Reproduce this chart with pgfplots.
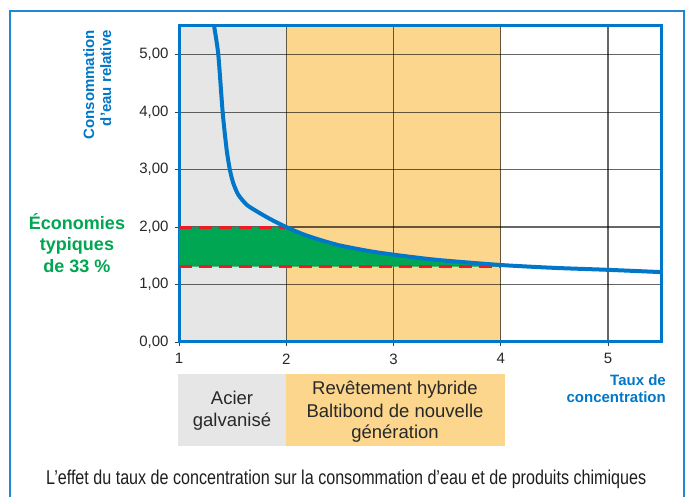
\documentclass[border=0pt]{standalone}
\usepackage{pgfplots}
\pgfplotsset{compat=1.18}
\usepackage{fontspec}
\setmainfont{Liberation Sans}
\definecolor{cblue}{RGB}{0,119,200}
\definecolor{fblue}{RGB}{30,136,210}
\definecolor{gfill}{RGB}{230,230,230}
\definecolor{ofill}{RGB}{252,214,140}
\definecolor{sgreen}{RGB}{0,166,81}
\definecolor{dred}{RGB}{237,28,36}
\definecolor{dtext}{RGB}{40,40,40}
\pgfplotsset{myframe/.style={at={(179pt,155pt)}, anchor=south west, scale only axis,
  width=482.7pt, height=316pt, xmin=1, xmax=5.5, ymin=0, ymax=5.5}}
\begin{document}
\begin{tikzpicture}
\begin{scope}[x=1pt,y=1pt]
\useasboundingbox (0,0) rectangle (686,497);
\fill[white] (0,0) rectangle (686,497);
\draw[fblue, line width=1.5pt] (10,-20) rectangle (684,486);
\end{scope}
\begin{axis}[myframe, hide axis]
\addplot[fill=gfill, draw=none] coordinates {(1,0) (2,0) (2,5.5) (1,5.5) (1,0)};
\addplot[fill=ofill, draw=none] coordinates {(2,0) (4,0) (4,5.5) (2,5.5) (2,0)};
\end{axis}
\begin{axis}[myframe,
  xtick={1,2,3,4,5}, ytick={0,1,2,3,4,5},
  grid=major, major grid style={black, opacity=0.6, line width=1.2pt},
  axis line style={cblue, line width=3pt},
  tick align=outside, tick pos=left, major tick length=4pt,
  tick style={black!75, line width=0.8pt},
  /pgf/number format/assume math mode=true,
  yticklabel style={/pgf/number format/fixed, /pgf/number format/precision=2,
    /pgf/number format/fixed zerofill, /pgf/number format/use comma, xshift=-3pt},
  xticklabel style={yshift=-4pt},
  ticklabel style={font=\fontsize{15}{16}\selectfont, text=dtext},
]
\addplot[fill=sgreen, draw=none] coordinates {(1,1.31) (1,2.0) (2.0,2.0) (2.08,1.935) (2.15,1.88) (2.23,1.83) (2.31,1.78) (2.4,1.73) (2.5,1.68) (2.64,1.63) (2.78,1.58) (3.0,1.52) (3.2,1.475) (3.4,1.43) (3.7,1.38) (4.0,1.34) (4.0,1.31) (1,1.31)};
\addplot[dred, line width=3pt, dash pattern=on 13pt off 7pt] coordinates {(1,2.0) (2.0,2.0)};
\addplot[dred, line width=3pt, dash pattern=on 13pt off 7pt] coordinates {(1,1.31) (4.0,1.31)};
\addplot[cblue, line width=4pt, smooth, tension=0.4] coordinates {
(1.326,5.51) (1.366,5.01) (1.407,4.0) (1.444,3.35) (1.474,3.0) (1.505,2.77) (1.552,2.565) (1.63,2.39) (1.72,2.28) (1.85,2.14) (2.0,2.0) (2.15,1.88) (2.31,1.78) (2.5,1.68) (2.78,1.58) (3.0,1.52) (3.4,1.43) (4.0,1.34) (4.5,1.29) (5.0,1.256) (5.5,1.216)};
\end{axis}
\begin{scope}[x=1pt,y=1pt]
% y label
\node[rotate=90, anchor=base east, inner sep=0pt, text=cblue, font=\fontsize{15}{17}\selectfont\bfseries] at (94,467) {Consommation};
\node[rotate=90, anchor=base east, inner sep=0pt, text=cblue, font=\fontsize{15}{17}\selectfont\bfseries] at (111,467) {d'eau relative};
% economies
\node[anchor=base, inner sep=0pt, text=sgreen, font=\fontsize{18}{21}\selectfont\bfseries] at (77,{497-229.3}) {Économies};
\node[anchor=base, inner sep=0pt, text=sgreen, font=\fontsize{18}{21}\selectfont\bfseries] at (77,{497-250.7}) {typiques};
\node[anchor=base, inner sep=0pt, text=sgreen, font=\fontsize{18}{21}\selectfont\bfseries] at (77,{497-272.5}) {de 33 \%};
% x label
\node[anchor=base east, inner sep=0pt, text=cblue, font=\fontsize{15}{17}\selectfont\bfseries] at (666,{497-385.5}) {Taux de};
\node[anchor=base east, inner sep=0pt, text=cblue, font=\fontsize{15}{17}\selectfont\bfseries] at (666,{497-402.6}) {concentration};
% boxes
\fill[gfill] (178,{497-374.5}) rectangle (285.6,{497-446.5});
\fill[ofill] (285.6,{497-374.5}) rectangle (504.5,{497-446.5});
\node[anchor=base, inner sep=0pt, text=dtext, font=\fontsize{18.5}{21}\selectfont] at (232,{497-404.5}) {Acier};
\node[anchor=base, inner sep=0pt, text=dtext, font=\fontsize{18.5}{21}\selectfont] at (232,{497-426.5}) {galvanisé};
\node[anchor=base, inner sep=0pt, text=dtext, font=\fontsize{18.5}{21}\selectfont] at (395,{497-395}) {Revêtement hybride};
\node[anchor=base, inner sep=0pt, text=dtext, font=\fontsize{18.5}{21}\selectfont] at (395,{497-417.3}) {Baltibond de nouvelle};
\node[anchor=base, inner sep=0pt, text=dtext, font=\fontsize{18.5}{21}\selectfont] at (395,{497-439}) {génération};
% caption
\node[anchor=base west, inner sep=0pt, text=black!88] at (46,{497-484.3}) {\resizebox{600pt}{14.5pt}{L’effet du taux de concentration sur la consommation d’eau et de produits chimiques}};
\end{scope}
\end{tikzpicture}
\end{document}
